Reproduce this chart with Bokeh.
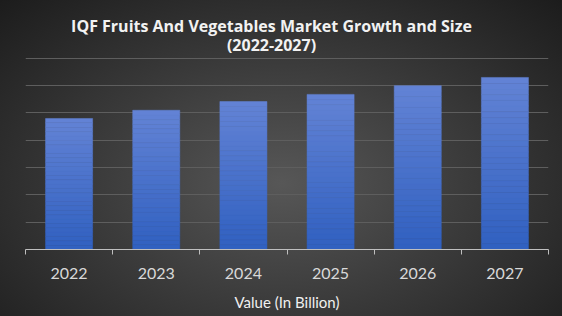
from bokeh.plotting import figure
from bokeh.models import FixedTicker, Label
from bokeh.embed import file_html
from bokeh.resources import INLINE

# Data
years = ["2022", "2023", "2024", "2025", "2026", "2027"]
values = [4.79, 5.09, 5.41, 5.67, 5.99, 6.29]
grid_levels = [1, 2, 3, 4, 5, 6, 7]
title_lines = ["IQF Fruits And Vegetables Market Growth and Size", "(2022-2027)"]

# layout geometry (pixels)
W, H = 562, 316
FRAME_LEFT, FRAME_RIGHT = 25, 548
FRAME_BOTTOM = 249          # y pixel of the axis line
GRID_SPAN = 191.5           # pixels between 0 and 7
TITLE_X = 271
TITLE_Y = [25.0, 44.5]      # pixel centres of title lines

n = len(years)
xs = [i + 0.5 for i in range(n)]

def py_to_data(py):
    return (FRAME_BOTTOM - py) / GRID_SPAN * max(grid_levels)

def px_to_data(px):
    return (px - FRAME_LEFT) / (FRAME_RIGHT - FRAME_LEFT) * n

y_top = py_to_data(0)

p = figure(width=W, height=H, output_backend="svg", toolbar_location=None,
           x_range=(0, n), y_range=(0, y_top),
           min_border_left=FRAME_LEFT, min_border_right=W - FRAME_RIGHT, min_border_top=0,
           min_border_bottom=H - FRAME_BOTTOM)
p.title = None
p.styles = {"background": "radial-gradient(ellipse farthest-corner at 50% 58%, #575757 0%, #3c3c3c 45%, #1c1c1c 100%)"}
p.background_fill_alpha = 0
p.border_fill_alpha = 0
p.outline_line_color = None

# grid
p.xgrid.visible = False
p.ygrid.ticker = FixedTicker(ticks=grid_levels)
p.ygrid.grid_line_color = "#5e5e5e"
p.ygrid.grid_line_width = 1

# bars with vertical gradient (bottom darker, top lighter)
def lerp(c1, c2, t):
    a = [int(c1[i:i + 2], 16) for i in (1, 3, 5)]
    b = [int(c2[i:i + 2], 16) for i in (1, 3, 5)]
    return "#%02x%02x%02x" % tuple(round(a[k] + (b[k] - a[k]) * t) for k in range(3))

STEPS = 30
bx, bb, bt, bc = [], [], [], []
for x, v in zip(xs, values):
    for k in range(STEPS):
        bx.append(x)
        bb.append(v * k / STEPS)
        bt.append(v * (k + 1) / STEPS)
        bc.append(lerp("#3060c0", "#6383d5", (k + 0.5) / STEPS))
p.vbar(x=bx, bottom=bb, top=bt, width=0.54, fill_color=bc, line_color=bc, line_width=0.5)

# title lines
for text, py in zip(title_lines, TITLE_Y):
    p.add_layout(Label(x=px_to_data(TITLE_X), y=py_to_data(py), text=text, text_align="center",
                       text_baseline="middle", text_color="#f2f2f2", text_font="Open Sans",
                       text_font_size="16px", text_font_style="bold"))

# axes
p.yaxis.visible = False
ax = p.xaxis[0]
ax.ticker = FixedTicker(ticks=xs, minor_ticks=list(range(n + 1)))
ax.major_label_overrides = {x: y for x, y in zip(xs, years)}
ax.major_tick_in = 0
ax.major_tick_out = 0
ax.minor_tick_in = 0
ax.minor_tick_out = 5
ax.minor_tick_line_color = "#bfbfbf"
ax.axis_line_color = "#bfbfbf"
ax.major_label_text_color = "#d9d9d9"
ax.major_label_text_font = "Lato"
ax.major_label_text_font_size = "16px"
ax.major_label_standoff = 13
ax.axis_label = "Value (In Billion)"
ax.axis_label_text_color = "#f0f0f0"
ax.axis_label_text_font = "Lato"
ax.axis_label_text_font_size = "15px"
ax.axis_label_text_font_style = "normal"
ax.axis_label_standoff = 11

open("out.html", "w").write(file_html(p, INLINE))
